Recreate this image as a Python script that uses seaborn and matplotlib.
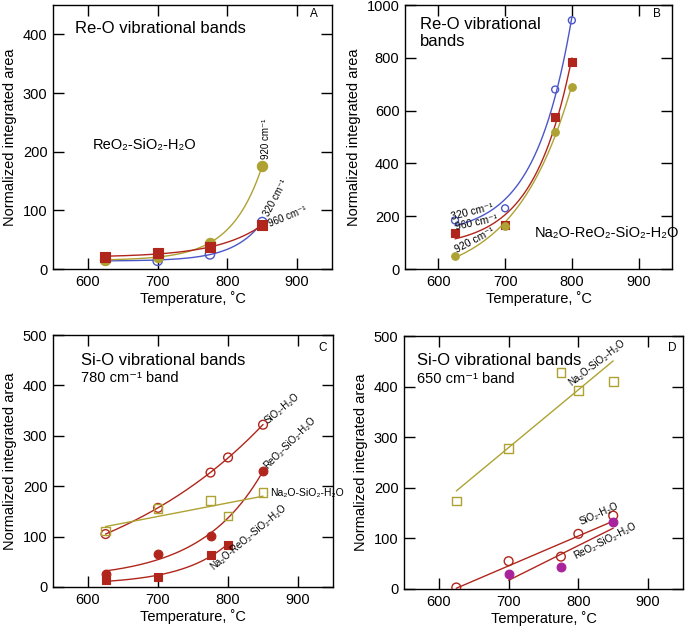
import numpy as np
import matplotlib
matplotlib.use("Agg")
import matplotlib.pyplot as plt
import seaborn as sns

# ---------------- data ----------------
# Panel A : ReO2-SiO2-H2O, Re-O bands
a_temp = [625, 700, 775, 850]
a_920 = [16, 20, 45, 176]
a_960 = [21, 27, 37, 75]
a_320 = [15, 14, 25, 80]

# Panel B : Na2O-ReO2-SiO2-H2O, Re-O bands
b_temp = [625, 700, 775, 800]
b_320 = [184, 230, 680, 942]
b_960 = [136, 168, 574, 786]
b_920 = [50, 164, 519, 688]

# Panel C : Si-O 780 cm-1 band
c_temp_sio2 = [625, 700, 775, 800, 850]
c_sio2 = [105, 157, 227, 257, 322]
c_temp_reo2 = [625, 700, 775, 850]
c_reo2 = [26, 65, 101, 231]
c_temp_na = [625, 700, 775, 800, 850]
c_na = [111, 156, 172, 141, 187]
c_temp_nare = [625, 700, 775, 800]
c_nare = [13, 20, 64, 84]

# Panel D : Si-O 650 cm-1 band
d_temp_na = [625, 700, 775, 800, 850]
d_na = [174, 278, 428, 393, 410]
d_temp_sio2 = [625, 700, 775, 800, 850]
d_sio2 = [3, 55, 64, 109, 145]
d_temp_reo2 = [700, 775, 850]
d_reo2 = [30, 43, 133]

xticks = [600, 700, 800, 900]

RED = "#B0261C"
OLIVE = "#AEA232"
BLUE = "#4B57C9"
MAG = "#A8239C"

sns.set_style("ticks")
plt.rcParams["font.family"] = ["Liberation Sans", "DejaVu Sans"]
plt.rcParams["axes.linewidth"] = 1.0
for k in ["text.color", "axes.labelcolor", "xtick.color", "ytick.color",
          "axes.edgecolor"]:
    plt.rcParams[k] = "black"


def expfit(x, y, n=200):
    x = np.asarray(x, float)
    y = np.asarray(y, float)
    best = None
    for k in np.linspace(0.001, 0.15, 1500):
        A = np.column_stack([np.ones_like(x), np.exp(k * (x - x.min()))])
        coef, *_ = np.linalg.lstsq(A, y, rcond=None)
        r = np.sum((A @ coef - y) ** 2)
        if best is None or r < best[0]:
            best = (r, k, coef)
    xs = np.linspace(x.min(), x.max(), n)
    ys = best[2][0] + best[2][1] * np.exp(best[1] * (xs - x.min()))
    return xs, ys


def linfit(x, y):
    x = np.asarray(x, float)
    y = np.asarray(y, float)
    p = np.polyfit(x, y, 1)
    xs = np.array([x.min(), x.max()])
    return xs, np.polyval(p, xs)


def curve(ax, xs, ys, col):
    sns.lineplot(x=xs, y=ys, ax=ax, color=col, lw=1.0, legend=False, sort=False)


def pts(ax, x, y, col, marker="o", filled=True, s=40):
    if filled:
        sns.scatterplot(x=x, y=y, ax=ax, color=col, edgecolor=col, marker=marker,
                        s=s, linewidth=0.8, legend=False, zorder=3)
    else:
        sns.scatterplot(x=x, y=y, ax=ax, color="none", edgecolor=col, marker=marker,
                        s=s, linewidth=1.0, legend=False, zorder=3)


def style(ax, ymax, yticks):
    ax.set_xlim(550, 950)
    ax.set_ylim(0, ymax)
    ax.set_xticks(xticks)
    ax.set_yticks(yticks)
    ax.tick_params(direction="in", top=True, right=True, length=8, width=1,
                   labelsize=10.5, pad=4, colors="black")
    for sp in ax.spines.values():
        sp.set_visible(True)
        sp.set_color("black")
    ax.set_xlabel("Temperature, ˚C", fontsize=10.5, labelpad=2)
    ax.set_ylabel("Normalized integrated area", fontsize=10.5, labelpad=4)


fig = plt.figure(figsize=(6.85, 6.29), dpi=100)
axA = fig.add_axes([0.0774, 0.5723, 0.4073, 0.4197])
axB = fig.add_axes([0.5912, 0.5723, 0.3898, 0.4197])
axC = fig.add_axes([0.0774, 0.0668, 0.4088, 0.4006])
axD = fig.add_axes([0.5898, 0.0636, 0.4072, 0.4022])

# ---------------- Panel A ----------------
ax = axA
for yv, col in [(a_320, BLUE), (a_920, OLIVE), (a_960, RED)]:
    xs, ys = expfit(a_temp, yv)
    curve(ax, xs, ys, col)
pts(ax, a_temp, a_320, BLUE, "o", filled=False, s=45)
pts(ax, a_temp, a_920, OLIVE, "o", filled=True, s=55)
pts(ax, a_temp, a_960, RED, "s", filled=True, s=55)
style(ax, 450, [0, 100, 200, 300, 400])
ax.text(582, 410, "Re-O vibrational bands", fontsize=12, va="center", ha="left")
ax.text(607, 212, "ReO₂-SiO₂-H₂O", fontsize=10.5, va="center", ha="left")
ax.text(855, 222, "920 cm⁻¹", fontsize=7, rotation=90, ha="center", va="center")
ax.text(869, 122, "320 cm⁻¹", fontsize=7, rotation=62, ha="center", va="center",
        rotation_mode="anchor")
ax.text(887, 90, "960 cm⁻¹", fontsize=7, rotation=22, ha="center", va="center",
        rotation_mode="anchor")
ax.text(924, 435, "A", fontsize=8.5, ha="center", va="center")

# ---------------- Panel B ----------------
ax = axB
for yv, col in [(b_920, OLIVE), (b_960, RED), (b_320, BLUE)]:
    xs, ys = expfit(b_temp, yv)
    curve(ax, xs, ys, col)
pts(ax, b_temp, b_320, BLUE, "o", filled=False, s=25)
pts(ax, b_temp, b_960, RED, "s", filled=True, s=30)
pts(ax, b_temp, b_920, OLIVE, "o", filled=True, s=30)
style(ax, 1000, [0, 200, 400, 600, 800, 1000])
ax.text(573, 955, "Re-O vibrational\nbands", fontsize=12, va="top", ha="left",
        linespacing=1.15)
ax.text(650, 218, "320 cm⁻¹", fontsize=7.5, rotation=14, ha="center", va="center",
        rotation_mode="anchor")
ax.text(657, 176, "960 cm⁻¹", fontsize=7.5, rotation=12, ha="center", va="center",
        rotation_mode="anchor")
ax.text(655, 108, "920 cm⁻¹", fontsize=7.5, rotation=28, ha="center", va="center",
        rotation_mode="anchor")
ax.text(745, 136, "Na₂O-ReO₂-SiO₂-H₂O", fontsize=10.5, va="center", ha="left")
ax.text(927, 965, "B", fontsize=8.5, ha="center", va="center")

# ---------------- Panel C ----------------
ax = axC
xs, ys = expfit(c_temp_sio2, c_sio2)
curve(ax, xs, ys, RED)
xs, ys = expfit(c_temp_reo2, c_reo2)
curve(ax, xs, ys, RED)
xs, ys = linfit(c_temp_na, c_na)
curve(ax, xs, ys, OLIVE)
xs, ys = expfit(c_temp_nare, c_nare)
curve(ax, xs, ys, RED)
pts(ax, c_temp_sio2, c_sio2, RED, "o", filled=False, s=40)
pts(ax, c_temp_reo2, c_reo2, RED, "o", filled=True, s=40)
pts(ax, c_temp_na, c_na, OLIVE, "s", filled=False, s=40)
pts(ax, c_temp_nare, c_nare, RED, "s", filled=True, s=40)
style(ax, 500, [0, 100, 200, 300, 400, 500])
ax.text(590, 449, "Si-O vibrational bands", fontsize=12, va="center", ha="left")
ax.text(590, 414, "780 cm⁻¹ band", fontsize=10.5, va="center", ha="left")
ax.text(935, 475, "C", fontsize=8.5, ha="center", va="center")
ax.text(877, 354, "SiO₂-H₂O", fontsize=7, rotation=40, ha="center", va="center",
        rotation_mode="anchor")
ax.text(888, 285, "ReO₂-SiO₂-H₂O", fontsize=7, rotation=45, ha="center", va="center",
        rotation_mode="anchor")
ax.text(860, 187, "Na₂O-SiO₂-H₂O", fontsize=7.5, ha="left", va="center")
ax.text(829, 99, "Na₂O-ReO₂-SiO₂-H₂O", fontsize=7, rotation=40, ha="center",
        va="center", rotation_mode="anchor")

# ---------------- Panel D ----------------
ax = axD
xs, ys = linfit(d_temp_na, d_na)
curve(ax, xs, ys, OLIVE)
xs, ys = linfit(d_temp_sio2, d_sio2)
curve(ax, xs, ys, RED)
xs, ys = linfit(d_temp_reo2, d_reo2)
curve(ax, xs, ys, RED)
pts(ax, d_temp_na, d_na, OLIVE, "s", filled=False, s=40)
pts(ax, d_temp_sio2, d_sio2, RED, "o", filled=False, s=40)
pts(ax, d_temp_reo2, d_reo2, MAG, "o", filled=True, s=40)
style(ax, 500, [0, 100, 200, 300, 400, 500])
ax.text(569, 452, "Si-O vibrational bands", fontsize=12, va="center", ha="left")
ax.text(569, 416, "650 cm⁻¹ band", fontsize=10.5, va="center", ha="left")
ax.text(935, 476, "D", fontsize=8.5, ha="center", va="center")
ax.text(826, 447, "Na₂O-SiO₂-H₂O", fontsize=7, rotation=38, ha="center", va="center",
        rotation_mode="anchor")
ax.text(829, 148, "SiO₂-H₂O", fontsize=7, rotation=24, ha="center", va="center",
        rotation_mode="anchor")
ax.text(838, 95, "ReO₂-SiO₂-H₂O", fontsize=7, rotation=27, ha="center", va="center",
        rotation_mode="anchor")

fig.savefig("out.png", dpi=100)
